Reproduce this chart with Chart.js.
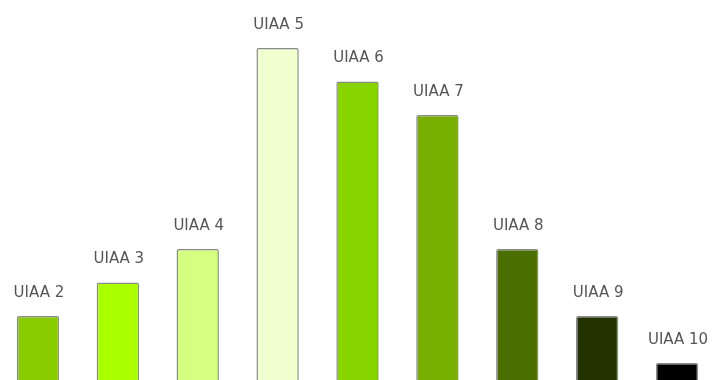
<!DOCTYPE html>
<html>
<head>
<meta charset="utf-8">
<script src="https://cdn.jsdelivr.net/npm/chart.js@4"></script>
<style>
  html, body { margin: 0; padding: 0; background: #fff; overflow: hidden; }
  canvas { display: block; margin-left: -2px; }
</style>
</head>
<body>
<canvas id="gradeChart" width="719" height="380"></canvas>
<script>
// Data
const grades = ['UIAA 2', 'UIAA 3', 'UIAA 4', 'UIAA 5', 'UIAA 6', 'UIAA 7', 'UIAA 8', 'UIAA 9', 'UIAA 10'];
const routeCounts = [4, 5, 6, 12, 11, 10, 6, 4, 2.6];
const gradeColors = ['#88cc00', '#aaff00', '#d4ff80', '#f0ffd0', '#88d400', '#77b000', '#4a6e00', '#223300', '#000000'];

// Label each bar with its grade, just above the top
const barLabels = {
  id: 'barLabels',
  afterDatasetsDraw(chart) {
    const ctx = chart.ctx;
    const meta = chart.getDatasetMeta(0);
    ctx.save();
    ctx.font = '15px "DejaVu Sans", Verdana, sans-serif';
    ctx.fillStyle = '#555';
    ctx.textAlign = 'center';
    ctx.textBaseline = 'alphabetic';
    meta.data.forEach((bar, i) => {
      ctx.fillText(grades[i], bar.x + 1, bar.y - 19);
    });
    ctx.restore();
  }
};

const ctx = document.getElementById('gradeChart').getContext('2d');
new Chart(ctx, {
  type: 'bar',
  data: {
    labels: grades,
    datasets: [{
      data: routeCounts,
      backgroundColor: gradeColors,
      borderColor: '#8a8a8a',
      borderWidth: 1.5,
      borderRadius: 2,
      borderSkipped: false,
      categoryPercentage: 1,
      barPercentage: 0.53
    }]
  },
  options: {
    responsive: false,
    animation: false,
    layout: { padding: 0 },
    plugins: {
      legend: { display: false },
      tooltip: { enabled: false }
    },
    scales: {
      x: { display: false },
      y: { display: false, min: 2.09, max: 13.43 }
    }
  },
  plugins: [barLabels]
});
</script>
</body>
</html>
